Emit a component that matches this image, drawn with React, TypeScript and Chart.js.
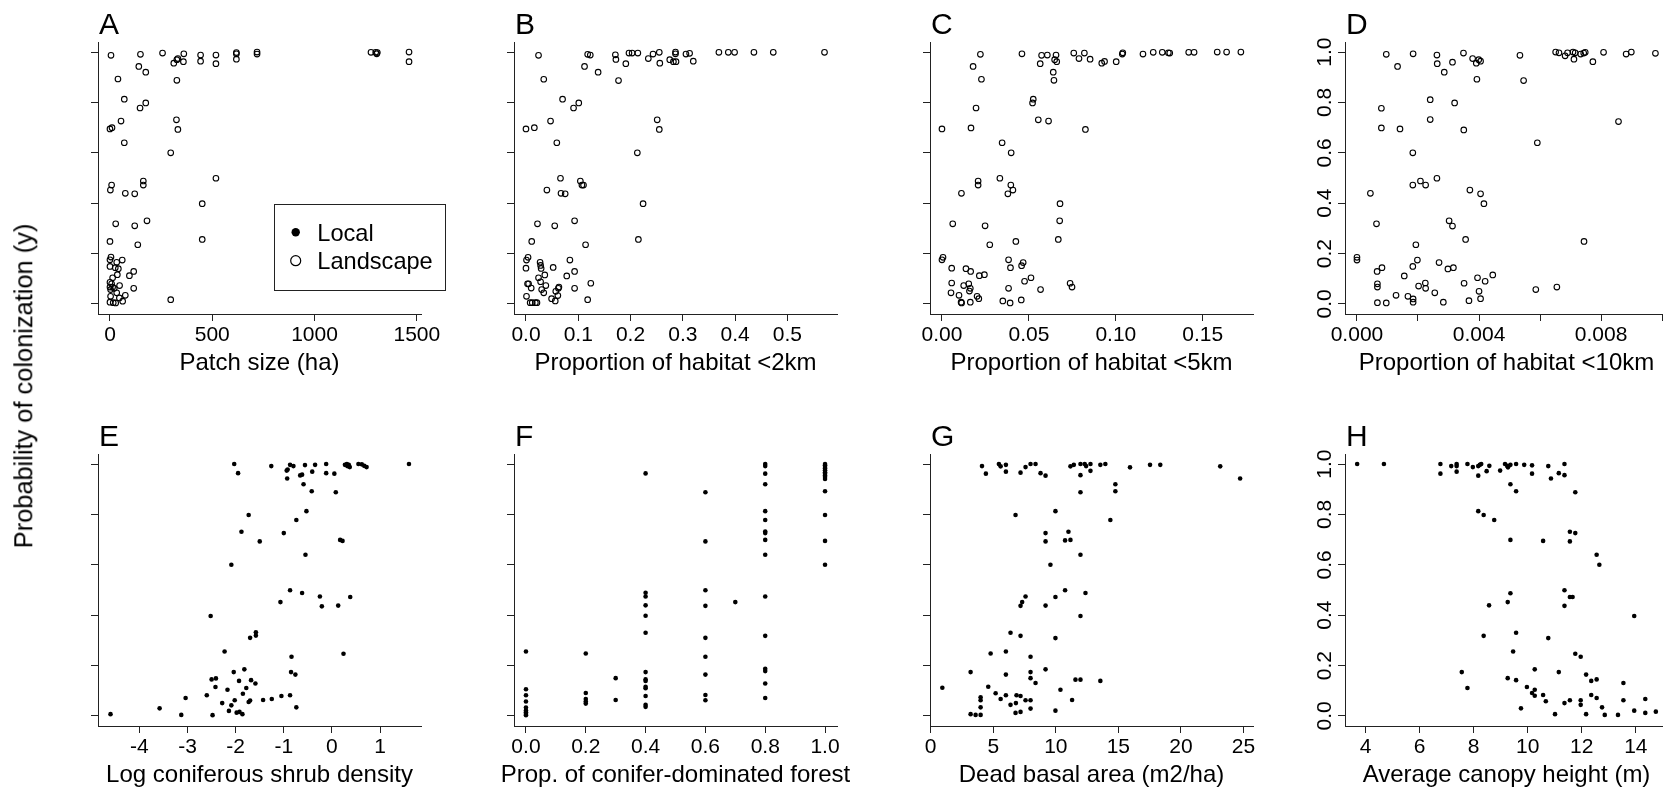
import React, { useEffect, useRef } from 'react';
import { Chart, registerables } from 'chart.js';

Chart.register(...registerables);

const FONT = '"Liberation Sans", Arial, Helvetica, sans-serif';

// ---------- data ----------
const yTicks = [0, 0.2, 0.4, 0.6, 0.8, 1.0];
const yTickLabels = ['0.0', '0.2', '0.4', '0.6', '0.8', '1.0'];

// A: Patch size (ha) – landscape (open circles)
const xA = [5,149,257,332,327,312,361,359,443,443,
  518,518,618,618,618,719,719,1276,1299,1304,
  1307,1462,1462,141,175,39,327,70,147,175,
  54,325,332,0,10,70,297,518,8,2,
  163,163,75,121,451,28,121,181,451,0,
  136,5,0,60,33,0,26,41,116,36,
  95,13,0,8,47,0,13,21,116,3,
  33,75,3,46,62,0,16,28,297];
const yA = [0.987,0.991,0.996,0.974,0.970,0.956,0.993,0.962,0.988,0.964,
  0.988,0.954,0.998,0.993,0.972,1.0,0.992,0.999,0.999,0.993,
  0.998,1.0,0.962,0.943,0.920,0.893,0.888,0.813,0.778,0.798,
  0.726,0.731,0.693,0.695,0.700,0.640,0.600,0.499,0.472,0.452,
  0.488,0.472,0.439,0.437,0.398,0.318,0.310,0.330,0.256,0.248,
  0.235,0.186,0.175,0.174,0.165,0.149,0.144,0.140,0.129,0.116,
  0.112,0.104,0.086,0.080,0.073,0.067,0.067,0.062,0.062,0.057,
  0.044,0.034,0.030,0.024,0.011,0.007,0.005,0.004,0.017];
const ticksA = [0, 500, 1000, 1500];
const labelsA = ['0', '500', '1000', '1500'];

// B: Proportion of habitat <2km
const xB = [0.024,0.118,0.123,0.171,0.172,0.191,0.197,0.203,0.214,0.234,
  0.243,0.255,0.256,0.275,0.282,0.286,0.286,0.287,0.306,0.313,
  0.320,0.369,0.387,0.399,0.436,0.473,0.571,0.112,0.138,0.034,
  0.177,0.070,0.091,0.101,0.047,0.251,0.255,0.0,0.016,0.059,
  0.213,0.066,0.104,0.107,0.110,0.040,0.067,0.075,0.224,0.022,
  0.055,0.093,0.215,0.011,0.114,0.004,0.001,0.027,0.028,0.029,
  0.0,0.052,0.084,0.093,0.036,0.024,0.078,0.028,0.003,0.005,
  0.038,0.124,0.010,0.030,0.063,0.062,0.093,0.034,0.057,0.061,
  0.001,0.049,0.056,0.008,0.012,0.018,0.021,0.118];
const yB = [0.987,0.991,0.988,0.989,0.971,0.954,0.996,0.996,0.996,0.974,
  0.992,0.999,0.956,0.970,0.962,1.0,0.993,0.962,0.992,0.995,
  0.964,0.999,0.999,0.999,0.999,0.999,0.999,0.943,0.920,0.892,
  0.887,0.813,0.778,0.798,0.726,0.731,0.693,0.695,0.700,0.640,
  0.600,0.499,0.488,0.472,0.472,0.452,0.439,0.437,0.398,0.318,
  0.310,0.330,0.256,0.248,0.235,0.185,0.174,0.165,0.153,0.141,
  0.142,0.145,0.174,0.129,0.115,0.104,0.111,0.088,0.080,0.080,
  0.073,0.082,0.063,0.057,0.067,0.062,0.062,0.044,0.050,0.033,
  0.030,0.021,0.012,0.005,0.005,0.005,0.005,0.017];
const ticksB = [0, 0.1, 0.2, 0.3, 0.4, 0.5];
const labelsB = ['0.0', '0.1', '0.2', '0.3', '0.4', '0.5'];

// C: Proportion of habitat <5km
const xC = [0.0221,0.0460,0.0573,0.0606,0.0656,0.0648,0.0660,0.0565,0.0758,0.0819,
  0.0788,0.0852,0.0919,0.0935,0.1002,0.1037,0.1040,0.1156,0.1215,0.1267,
  0.1302,0.1310,0.1419,0.1450,0.1583,0.1637,0.1719,0.0179,0.0640,0.0227,
  0.0644,0.0525,0.0521,0.0196,0.0554,0.0613,0.0,0.0167,0.0825,0.0346,
  0.0398,0.0333,0.0208,0.0208,0.0396,0.0408,0.0379,0.0112,0.0679,0.0677,
  0.0062,0.0248,0.0669,0.0425,0.0275,0.0006,0.0,0.0383,0.0467,0.0458,
  0.0394,0.0056,0.0138,0.0165,0.0244,0.0215,0.0512,0.0475,0.0056,0.0125,
  0.0154,0.0163,0.0158,0.0383,0.0567,0.0737,0.0748,0.0052,0.0098,0.0202,
  0.0212,0.0110,0.0113,0.0163,0.0350,0.0392,0.0456];
const yC = [0.991,0.993,0.987,0.988,0.988,0.970,0.962,0.954,0.996,0.996,
  0.974,0.972,0.956,0.963,0.962,0.992,0.997,0.992,0.999,0.999,
  0.997,0.996,0.999,0.999,1.0,1.0,1.0,0.943,0.920,0.892,
  0.888,0.813,0.798,0.778,0.731,0.726,0.695,0.699,0.693,0.640,
  0.600,0.499,0.488,0.472,0.472,0.452,0.437,0.439,0.398,0.330,
  0.318,0.310,0.256,0.248,0.235,0.185,0.175,0.175,0.164,0.152,
  0.144,0.142,0.140,0.129,0.116,0.112,0.104,0.090,0.083,0.073,
  0.080,0.062,0.051,0.062,0.057,0.082,0.067,0.044,0.034,0.030,
  0.021,0.007,0.004,0.007,0.012,0.004,0.016];
const ticksC = [0, 0.05, 0.1, 0.15];
const labelsC = ['0.00', '0.05', '0.10', '0.15'];

// D: Proportion of habitat <10km
const xD = [0.00096,0.00184,0.00262,0.00263,0.00133,0.00349,0.00313,0.00286,0.00379,0.00391,
  0.00399,0.00405,0.00393,0.00534,0.00546,0.00651,0.00662,0.00682,0.00690,0.00708,
  0.00715,0.00711,0.00733,0.00743,0.00748,0.00773,0.00808,0.00882,0.00899,0.00978,
  0.00240,0.00320,0.00080,0.00240,0.00080,0.00141,0.00350,0.00857,0.00591,0.00183,
  0.00262,0.00208,0.00225,0.00183,0.00370,0.00405,0.00416,0.00044,0.00064,0.00302,
  0.00313,0.00356,0.00193,0.00744,0.0,0.0,0.00198,0.00183,0.00269,0.00082,
  0.00066,0.00298,0.00316,0.00445,0.00155,0.00395,0.00420,0.00224,0.00067,0.00067,
  0.00202,0.00225,0.00351,0.00400,0.00586,0.00655,0.00255,0.00128,0.00167,0.00184,
  0.00184,0.00405,0.00367,0.00067,0.00096,0.00283];
const yD = [0.991,0.993,0.988,0.954,0.943,0.996,0.960,0.920,0.974,0.956,
  0.970,0.964,0.892,0.987,0.887,1.0,0.997,0.985,0.997,1.0,
  0.997,0.972,0.992,0.996,0.999,0.962,0.999,0.992,1.0,0.995,
  0.811,0.798,0.777,0.732,0.699,0.695,0.691,0.724,0.640,0.600,
  0.499,0.488,0.472,0.472,0.452,0.437,0.398,0.439,0.318,0.330,
  0.309,0.256,0.235,0.248,0.185,0.174,0.174,0.149,0.164,0.144,
  0.129,0.139,0.144,0.115,0.111,0.104,0.090,0.083,0.080,0.067,
  0.071,0.062,0.082,0.050,0.057,0.067,0.044,0.034,0.030,0.020,
  0.007,0.021,0.013,0.005,0.004,0.007];
const ticksD = [0, 0.002, 0.004, 0.006, 0.008, 0.010];
const labelsD = ['0.000', '', '0.004', '', '0.008', ''];

// E: Log coniferous shrub density – local (filled dots)
const xE = [-2.03,-1.95,-1.26,-0.87,-0.80,-0.56,-0.35,-0.12,0.27,0.31,
  0.32,0.35,0.37,0.55,0.62,0.67,0.72,1.60,-0.94,-0.92,
  -0.93,-0.66,-0.62,-0.41,-0.12,0.05,-0.59,-0.42,0.08,-1.73,
  -0.53,-0.74,-1.88,-1.00,-1.50,0.17,0.22,-0.55,-2.09,-0.87,
  -0.62,-0.25,0.38,-1.07,-0.21,0.13,-2.52,-1.58,-1.58,-1.70,
  -2.23,0.24,-0.84,-1.82,-2.04,-0.85,-0.76,-2.50,-2.41,-1.93,
  -1.68,-1.59,-2.42,-2.17,-1.78,-3.04,-2.60,-1.85,-2.02,-1.70,
  -1.73,-1.43,-1.25,-1.05,-0.87,-2.28,-2.09,-3.58,-2.14,-1.98,
  -1.92,-1.86,-0.74,-4.60,-3.13,-2.48];
const yE = [1.0,0.964,0.992,0.997,0.992,0.996,0.997,1.0,0.997,1.0,
  0.992,0.997,0.988,1.0,0.999,0.993,0.988,1.0,0.974,0.978,
  0.943,0.955,0.958,0.970,0.964,0.962,0.920,0.892,0.888,0.798,
  0.813,0.778,0.731,0.726,0.693,0.699,0.695,0.640,0.600,0.499,
  0.488,0.474,0.472,0.452,0.435,0.438,0.397,0.332,0.319,0.310,
  0.256,0.247,0.235,0.185,0.174,0.174,0.164,0.145,0.149,0.139,
  0.142,0.129,0.115,0.104,0.111,0.071,0.082,0.088,0.062,0.061,
  0.055,0.063,0.067,0.079,0.082,0.051,0.042,0.030,0.020,0.013,
  0.016,0.007,0.034,0.007,0.004,0.003];
const ticksE = [-4, -3, -2, -1, 0, 1];
const labelsE = ['-4', '-3', '-2', '-1', '0', '1'];

// F: Prop. of conifer-dominated forest
const xF = [0,0,0,0,0,0,0,0,0,
  0.2,0.2,0.2,0.2,0.2,
  0.3,0.3,
  0.4,0.4,0.4,0.4,0.4,0.4,0.4,0.4,0.4,0.4,0.4,0.4,0.4,0.4,
  0.6,0.6,0.6,0.6,0.6,0.6,0.6,0.6,0.6,
  0.7,
  0.8,0.8,0.8,0.8,0.8,0.8,0.8,0.8,0.8,0.8,0.8,0.8,0.8,0.8,0.8,0.8,
  1.0,1.0,1.0,1.0,1.0,1.0,1.0,1.0,1.0,1.0,1.0,1.0,1.0,1.0];
const yF = [0.256,0.106,0.082,0.057,0.033,0.022,0.015,0.008,0.003,
  0.248,0.091,0.067,0.057,0.049,
  0.150,0.063,
  0.963,0.489,0.474,0.439,0.398,0.330,0.174,0.145,0.139,0.116,0.110,0.079,0.044,0.036,
  0.888,0.693,0.499,0.437,0.310,0.235,0.164,0.083,0.062,
  0.452,
  1.0,0.992,0.962,0.920,0.813,0.778,0.732,0.726,0.699,0.640,0.474,0.318,0.187,0.178,0.129,0.071,
  1.0,0.995,0.988,0.982,0.975,0.968,0.962,0.955,0.949,0.941,0.892,0.798,0.695,0.600];
const ticksF = [0, 0.2, 0.4, 0.6, 0.8, 1.0];
const labelsF = ['0.0', '0.2', '0.4', '0.6', '0.8', '1.0'];

// G: Dead basal area (m2/ha)
const xG = [4.10,4.41,5.45,5.59,6.01,6.01,7.18,7.58,7.98,8.38,
  8.78,9.18,11.17,11.44,11.97,11.97,12.31,12.42,12.77,12.77,
  13.56,13.96,15.93,17.53,18.35,23.14,24.73,14.76,14.76,11.97,
  9.97,6.78,14.36,9.18,11.01,9.18,10.74,11.17,11.97,9.57,
  10.74,12.37,7.58,7.31,7.18,9.97,9.18,11.97,6.38,7.18,
  9.97,4.79,6.01,7.98,3.19,9.18,6.01,7.98,7.98,8.38,
  11.57,11.97,13.56,0.93,4.60,10.37,5.19,6.01,6.86,7.18,
  5.59,7.58,7.98,11.30,3.99,3.99,3.99,3.99,6.38,6.81,
  7.98,6.78,7.18,9.97,3.19,3.59];
const yG = [0.992,0.962,1.0,0.991,0.997,0.970,0.966,0.988,1.0,1.0,
  0.964,0.954,0.991,0.997,1.0,0.956,1.0,0.992,1.0,0.973,
  0.997,1.0,0.987,0.997,0.997,0.991,0.943,0.920,0.892,0.888,
  0.813,0.798,0.778,0.726,0.731,0.693,0.697,0.699,0.640,0.600,
  0.499,0.488,0.474,0.452,0.437,0.472,0.438,0.397,0.330,0.318,
  0.309,0.248,0.256,0.235,0.174,0.185,0.164,0.174,0.150,0.131,
  0.144,0.144,0.139,0.112,0.116,0.104,0.090,0.082,0.082,0.079,
  0.067,0.062,0.062,0.063,0.074,0.062,0.034,0.004,0.044,0.051,
  0.029,0.012,0.016,0.021,0.007,0.004];
const ticksG = [0, 5, 10, 15, 20, 25];
const labelsG = ['0', '5', '10', '15', '20', '25'];

// H: Average canopy height (m)
const xH = [3.69,4.68,6.77,6.77,7.17,7.37,7.37,7.37,7.77,7.97,
  8.17,8.23,8.28,8.17,8.48,8.58,8.98,9.16,9.24,9.27,
  9.36,9.57,9.87,10.16,10.16,10.76,10.86,11.15,11.36,11.36,
  9.36,9.57,11.76,8.17,8.37,8.76,9.36,10.57,11.56,11.76,
  11.56,12.55,12.65,9.36,9.26,8.57,11.36,11.56,11.66,11.36,
  13.94,9.57,8.37,10.76,9.46,11.76,11.96,7.56,7.77,9.26,
  9.57,10.26,11.15,12.16,12.55,12.35,9.97,10.26,10.16,10.26,
  10.57,10.67,11.56,11.36,11.96,11.96,12.35,12.55,12.75,13.54,
  13.54,14.35,9.75,11.01,12.16,12.85,13.34,13.94,14.35,14.74];
const yH = [1.0,1.0,1.0,0.962,0.992,1.0,0.992,0.970,1.0,0.988,
  0.992,0.997,1.0,0.954,0.972,0.993,0.974,1.0,0.993,0.987,
  0.997,1.0,0.997,0.995,0.962,0.992,0.943,0.964,1.0,0.956,
  0.920,0.892,0.888,0.813,0.798,0.778,0.699,0.695,0.731,0.726,
  0.693,0.640,0.600,0.487,0.452,0.439,0.499,0.472,0.472,0.437,
  0.397,0.330,0.318,0.309,0.256,0.247,0.235,0.174,0.111,0.150,
  0.142,0.185,0.174,0.164,0.145,0.139,0.115,0.104,0.091,0.080,
  0.083,0.058,0.062,0.051,0.062,0.044,0.083,0.071,0.034,0.131,
  0.062,0.067,0.030,0.007,0.007,0.004,0.004,0.021,0.012,0.017];
const ticksH = [4, 6, 8, 10, 12, 14];
const labelsH = ['4', '6', '8', '10', '12', '14'];

const legendLabels = ['Local', 'Landscape'];
const yTitle = 'Probability of colonization (y)';

// ---------- layout ----------
const COL_LEFT = [98, 514, 930, 1345];
const ROW_TOP = [42, 454];
const PLOT_W = 323;
const PLOT_H = 272;
const PAD_L = 80;
const PAD_T = 40;
const PAD_R = 30;
const PAD_B = 75;
const AXIS_COLOR = '#222';

type Spec = {
  letter: string;
  title: string;
  xs: number[];
  ys: number[];
  min: number;
  max: number;
  ticks: number[];
  labels: string[];
  col: number;
  row: number;
  filled: boolean;
  yLabels: boolean;
  legend?: boolean;
};

const specs: Spec[] = [
  { letter: 'A', title: 'Patch size (ha)', xs: xA, ys: yA, min: -58.5, max: 1520.5, ticks: ticksA, labels: labelsA, col: 0, row: 0, filled: false, yLabels: false, legend: true },
  { letter: 'B', title: 'Proportion of habitat <2km', xs: xB, ys: yB, min: -0.0229, max: 0.5949, ticks: ticksB, labels: labelsB, col: 1, row: 0, filled: false, yLabels: false },
  { letter: 'C', title: 'Proportion of habitat <5km', xs: xC, ys: yC, min: -0.00688, max: 0.17888, ticks: ticksC, labels: labelsC, col: 2, row: 0, filled: false, yLabels: false },
  { letter: 'D', title: 'Proportion of habitat <10km', xs: xD, ys: yD, min: -0.000392, max: 0.010192, ticks: ticksD, labels: labelsD, col: 3, row: 0, filled: false, yLabels: true },
  { letter: 'E', title: 'Log coniferous shrub density', xs: xE, ys: yE, min: -4.86, max: 1.85, ticks: ticksE, labels: labelsE, col: 0, row: 1, filled: true, yLabels: false },
  { letter: 'F', title: 'Prop. of conifer-dominated forest', xs: xF, ys: yF, min: -0.04, max: 1.04, ticks: ticksF, labels: labelsF, col: 1, row: 1, filled: true, yLabels: false },
  { letter: 'G', title: 'Dead basal area (m2/ha)', xs: xG, ys: yG, min: -0.056, max: 25.76, ticks: ticksG, labels: labelsG, col: 2, row: 1, filled: true, yLabels: false },
  { letter: 'H', title: 'Average canopy height (m)', xs: xH, ys: yH, min: 3.24, max: 15.19, ticks: ticksH, labels: labelsH, col: 3, row: 1, filled: true, yLabels: true },
];

const panelText = {
  id: 'panelText',
  afterDraw(chart: any, _args: any, opts: any) {
    const { ctx, chartArea: ca } = chart;
    ctx.save();
    ctx.fillStyle = '#000';
    ctx.font = `30px ${FONT}`;
    ctx.textAlign = 'left';
    ctx.textBaseline = 'alphabetic';
    ctx.fillText(opts.letter, ca.left + 1, ca.top - 8.5);

    ctx.font = `24px ${FONT}`;
    ctx.textAlign = 'center';
    ctx.textBaseline = 'middle';
    ctx.fillText(opts.title, (ca.left + ca.right) / 2, ca.bottom + 49);

    if (opts.legend) {
      const bx = ca.left + 175.5;
      const by = ca.top + 161.5;
      ctx.strokeStyle = AXIS_COLOR;
      ctx.lineWidth = 1;
      ctx.strokeRect(Math.round(bx) + 0.5, Math.round(by) + 0.5, 171, 86);
      // Local (filled)
      ctx.beginPath();
      ctx.arc(ca.left + 197.7, ca.top + 190.3, 4.2, 0, Math.PI * 2);
      ctx.fillStyle = '#000';
      ctx.fill();
      // Landscape (open)
      ctx.beginPath();
      ctx.arc(ca.left + 197.7, ca.top + 218.7, 5, 0, Math.PI * 2);
      ctx.lineWidth = 1.2;
      ctx.strokeStyle = '#000';
      ctx.stroke();
      ctx.font = `23.6px ${FONT}`;
      ctx.textAlign = 'left';
      ctx.textBaseline = 'alphabetic';
      ctx.fillStyle = '#000';
      ctx.fillText(legendLabels[0], ca.left + 219.3, ca.top + 198.7);
      ctx.fillText(legendLabels[1], ca.left + 219.3, ca.top + 227.3);
    }
    ctx.restore();
  },
};

function makeConfig(s: Spec): any {
  const data = s.xs.map((x, i) => ({ x, y: s.ys[i] }));
  return {
    type: 'scatter',
    data: {
      datasets: [
        {
          data,
          showLine: false,
          pointStyle: 'circle',
          pointRadius: s.filled ? 2.3 : 2.8,
          pointHoverRadius: s.filled ? 2.3 : 2.8,
          pointBackgroundColor: s.filled ? '#000' : 'rgba(0,0,0,0)',
          pointBorderColor: '#000',
          pointBorderWidth: s.filled ? 0 : 1.1,
        },
      ],
    },
    options: {
      animation: false,
      responsive: false,
      maintainAspectRatio: false,
      events: [],
      layout: { padding: { left: 0, top: PAD_T, right: PAD_R, bottom: 0 }, autoPadding: false },
      plugins: {
        legend: { display: false },
        tooltip: { enabled: false },
        title: { display: false },
        panelText: { letter: s.letter, title: s.title, legend: !!s.legend },
      },
      scales: {
        x: {
          type: 'linear',
          position: 'bottom',
          bounds: 'data',
          min: s.min,
          max: s.max,
          afterBuildTicks: (sc: any) => {
            sc.ticks = s.ticks.map((v) => ({ value: v }));
          },
          afterFit: (sc: any) => {
            sc.height = PAD_B;
          },
          ticks: {
            autoSkip: false,
            maxRotation: 0,
            minRotation: 0,
            padding: 1.4,
            color: '#000',
            font: { family: FONT, size: 21, lineHeight: 1.2 },
            callback: (_v: any, i: number) => s.labels[i],
          },
          grid: { drawOnChartArea: false, drawTicks: true, tickLength: 7, color: AXIS_COLOR, lineWidth: 1 },
          border: { display: true, color: AXIS_COLOR, width: 1 },
        },
        y: {
          type: 'linear',
          position: 'left',
          bounds: 'data',
          min: -0.04,
          max: 1.04,
          afterBuildTicks: (sc: any) => {
            sc.ticks = yTicks.map((v) => ({ value: v }));
          },
          afterFit: (sc: any) => {
            sc.width = PAD_L;
          },
          ticks: {
            display: s.yLabels,
            autoSkip: false,
            minRotation: 90,
            maxRotation: 90,
            crossAlign: 'center',
            padding: -1.6,
            color: '#000',
            font: { family: FONT, size: 21, lineHeight: 1.2 },
            callback: (_v: any, i: number) => yTickLabels[i],
          },
          grid: { drawOnChartArea: false, drawTicks: true, tickLength: 7, color: AXIS_COLOR, lineWidth: 1 },
          border: { display: true, color: AXIS_COLOR, width: 1 },
        },
      },
    },
    plugins: [panelText],
  };
}

function Panel({ spec }: { spec: Spec }) {
  const ref = useRef<HTMLCanvasElement>(null);
  const w = PAD_L + PLOT_W + PAD_R;
  const h = PAD_T + PLOT_H + PAD_B;
  useEffect(() => {
    if (!ref.current) return;
    const chart = new Chart(ref.current, makeConfig(spec));
    return () => chart.destroy();
  }, [spec]);
  return (
    <canvas
      ref={ref}
      width={w}
      height={h}
      style={{
        position: 'absolute',
        left: COL_LEFT[spec.col] - PAD_L,
        top: ROW_TOP[spec.row] - PAD_T,
        width: w,
        height: h,
        display: 'block',
      }}
    />
  );
}

export default function App() {
  return (
    <div
      style={{
        position: 'fixed',
        left: 0,
        top: 0,
        width: 1663,
        height: 795,
        overflow: 'hidden',
        background: '#fff',
      }}
    >
      {specs.map((s) => (
        <Panel key={s.letter} spec={s} />
      ))}
      <div
        style={{
          position: 'absolute',
          left: 23.5,
          top: 385.7,
          transform: 'translate(-50%, -50%) rotate(-90deg)',
          whiteSpace: 'nowrap',
          fontFamily: FONT,
          fontSize: 25.4,
          lineHeight: '25.4px',
          color: '#000',
        }}
      >
        {yTitle}
      </div>
    </div>
  );
}
